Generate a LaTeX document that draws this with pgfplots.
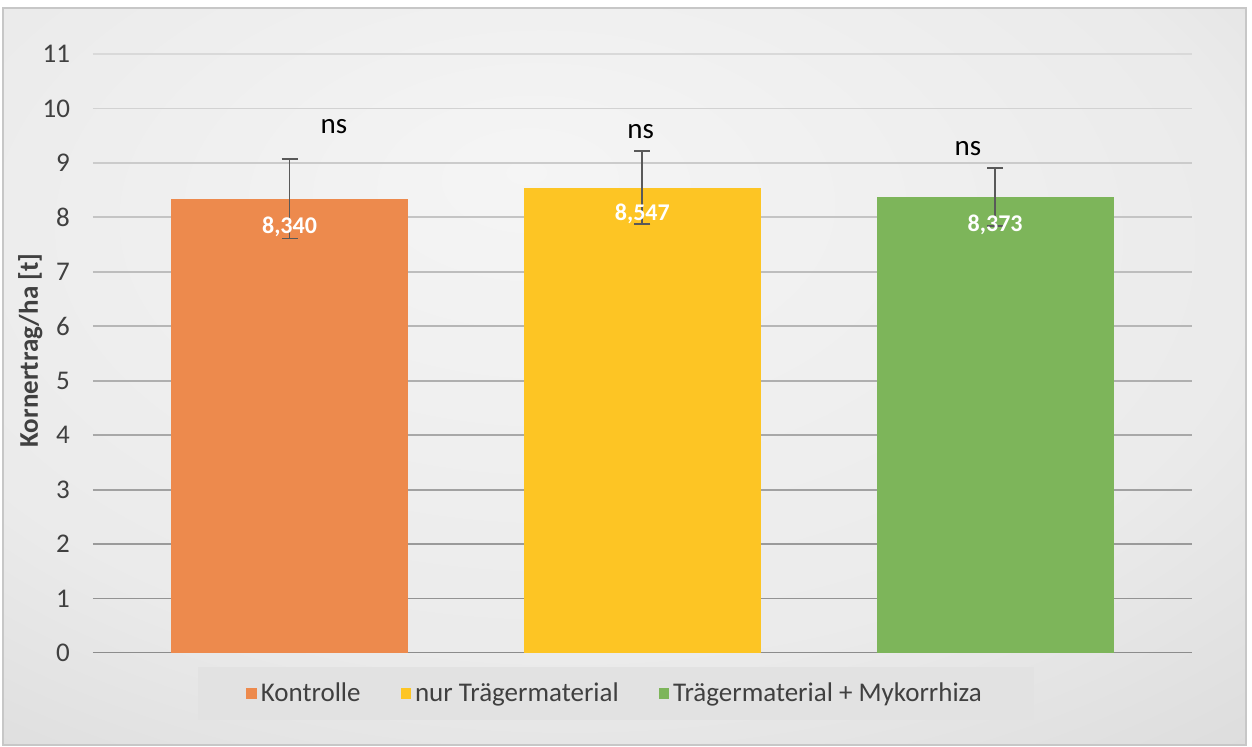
\documentclass[border=0pt]{standalone}
\usepackage{pgfplots}
\pgfplotsset{compat=1.18}
\usepackage{fontspec}
\setmainfont{Carlito}
\definecolor{cOrange}{RGB}{237,138,77}
\definecolor{cYellow}{RGB}{253,197,36}
\definecolor{cGreen}{RGB}{125,181,90}
\definecolor{tickgray}{HTML}{404040}
\definecolor{errgray}{HTML}{595959}
\definecolor{leggray}{HTML}{E2E2E2}
\pgfdeclareradialshading{bgshade}{\pgfpoint{-4bp}{14bp}}{%
  color(0bp)=(white!96!black);
  color(28bp)=(white!92!black);
  color(50bp)=(white!83!black);
  color(72bp)=(white!77!black)}
\pgfplotsset{sqleg/.style={legend image code/.code={\fill[##1] (0pt,-2.6pt) rectangle (5.2pt,2.6pt);}}}
\newcommand{\fs}{\fontsize{13.5}{16}\selectfont}
\newcommand{\fns}{\fontsize{14.5}{17}\selectfont}
\newcommand{\fval}{\fontsize{12}{14}\selectfont\bfseries}
\begin{document}
\begin{tikzpicture}
\useasboundingbox (0,0) rectangle (626pt,373.5pt);
\fill[white] (0,0) rectangle (626pt,373.5pt);
\shade[shading=bgshade] (1.5pt,1pt) rectangle (623pt,369.5pt);
\draw[black!22, line width=0.7pt] (1.5pt,1pt) rectangle (623pt,369.5pt);
\begin{axis}[
  at={(46.5pt,47pt)}, anchor=south west,
  scale only axis, width=549.5pt, height=299.5pt,
  xmin=-0.557, xmax=2.558, ymin=0, ymax=11,
  ytick={0,...,11}, xtick=\empty,
  axis line style={draw=none},
  tick style={draw=none},
  /pgf/number format/assume math mode=true,
  yticklabel style={font=\fs, text=tickgray, xshift=-8pt},
  ylabel={Kornertrag/ha [t]},
  every axis y label/.style={at={(axis description cs:-0.057,0.505)}, rotate=90, anchor=center, font=\fs\bfseries, text=tickgray},
  ybar, bar width=0.672,
  legend style={at={(0.476,-0.0676)}, anchor=center, fill=leggray, draw=none,
    legend columns=3, font=\fs, text=tickgray, inner xsep=24pt, inner ysep=6pt,
    /tikz/every even column/.append style={column sep=18pt}},
]
\pgfplotsinvokeforeach{0,...,11}{
  \pgfmathsetmacro{\gl}{15+(11-#1)*30/11}
  \edef\temp{\noexpand\draw[black!\gl, line width=0.9pt] (axis cs:-0.557,#1) -- (axis cs:2.558,#1);}
  \temp
}
\addplot[fill=cOrange, draw=none, bar shift=0pt, sqleg,
  error bars/.cd, y dir=both, y explicit,
  error bar style={errgray, line width=0.85pt},
  error mark options={rotate=90, errgray, mark size=4pt, line width=0.85pt}]
  coordinates {(0,8.340) +- (0,0.726)};
\addplot[fill=cYellow, draw=none, bar shift=0pt, sqleg,
  error bars/.cd, y dir=both, y explicit,
  error bar style={errgray, line width=0.85pt},
  error mark options={rotate=90, errgray, mark size=4pt, line width=0.85pt}]
  coordinates {(1,8.547) +- (0,0.67)};
\addplot[fill=cGreen, draw=none, bar shift=0pt, sqleg,
  error bars/.cd, y dir=both, y explicit,
  error bar style={errgray, line width=0.85pt},
  error mark options={rotate=90, errgray, mark size=4pt, line width=0.85pt}]
  coordinates {(2,8.373) +- (0,0.537)};
\legend{Kontrolle, nur Trägermaterial, Trägermaterial + Mykorrhiza}
\node[font=\fns, text=black] at (axis cs:0.126,9.66) {ns};
\node[font=\fns, text=black] at (axis cs:0.995,9.57) {ns};
\node[font=\fns, text=black] at (axis cs:1.923,9.27) {ns};
\node[font=\fval, text=white] at (axis cs:0,7.82) {8,340};
\node[font=\fval, text=white] at (axis cs:1,8.06) {8,547};
\node[font=\fval, text=white] at (axis cs:2,7.86) {8,373};
\end{axis}
\end{tikzpicture}
\end{document}
